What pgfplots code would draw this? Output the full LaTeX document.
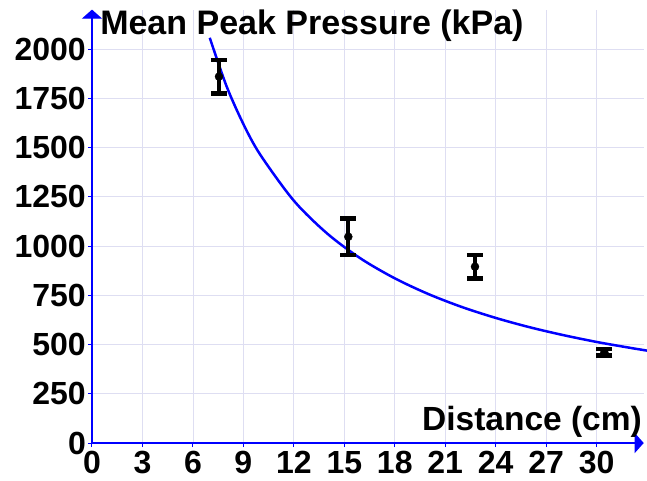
\documentclass[border=0pt]{standalone}
\usepackage{pgfplots}
\pgfplotsset{compat=1.18}
\usepackage{fontspec}
\setmainfont{Liberation Sans}
\usetikzlibrary{arrows.meta}
\definecolor{gridc}{RGB}{222,222,242}
\begin{document}
\begin{tikzpicture}
\begin{axis}[
  at={(0,0)}, anchor=south west,
  scale only axis,
  width=551.7pt, height=433.4pt,
  xmin=0, xmax=32.8, ymin=0, ymax=2200,
  axis lines=left,
  axis line style={blue, line width=1.2pt, -{Triangle[length=9pt,width=20pt]}},
  xtick={0,3,...,30}, ytick={0,250,...,2000},
  grid=major, grid style={gridc, line width=0.7pt},
  tick style={blue, line width=1pt}, tick align=outside, major tick length=4pt,
  ticklabel style={font=\fontsize{32}{32}\selectfont\bfseries},
  xticklabel style={inner sep=4pt},
  yticklabel style={inner sep=2pt},
  /pgf/number format/assume math mode=true,
  /pgf/number format/1000 sep={},
  clip=false,
]
\addplot[blue, line width=2.5pt, smooth] coordinates {
(7,2057) (8,1811) (9,1619) (10,1464) (12,1230) (14,1062) (16,935) (18,836)
(20,756) (22,690) (24,635) (26,588) (28,548) (30,513) (32,483) (33,469)};
\addplot[black, only marks, mark=*, mark size=4pt,
  error bars/.cd, y dir=both, y explicit,
  error bar style={black, line width=4pt},
  error mark options={rotate=90, black, line width=4.5pt, mark size=8pt}]
  coordinates {
  (7.55,1860) +- (0,85)
  (15.24,1047) +- (0,93)
  (22.77,895) +- (0,60)
  (30.46,460) +- (0,16)
  };
\node[anchor=base west, inner sep=0, font=\fontsize{34}{34}\selectfont\bfseries] at (axis cs:0.48,2073) {Mean Peak Pressure (kPa)};
\node[anchor=base east, inner sep=0, font=\fontsize{33.5}{34}\selectfont\bfseries] at (axis cs:32.7,64) {Distance (cm)};
\end{axis}
\pgfresetboundingbox
\path[use as bounding box] (-92pt,-37pt) rectangle (555pt,443pt);
\end{tikzpicture}
\end{document}
